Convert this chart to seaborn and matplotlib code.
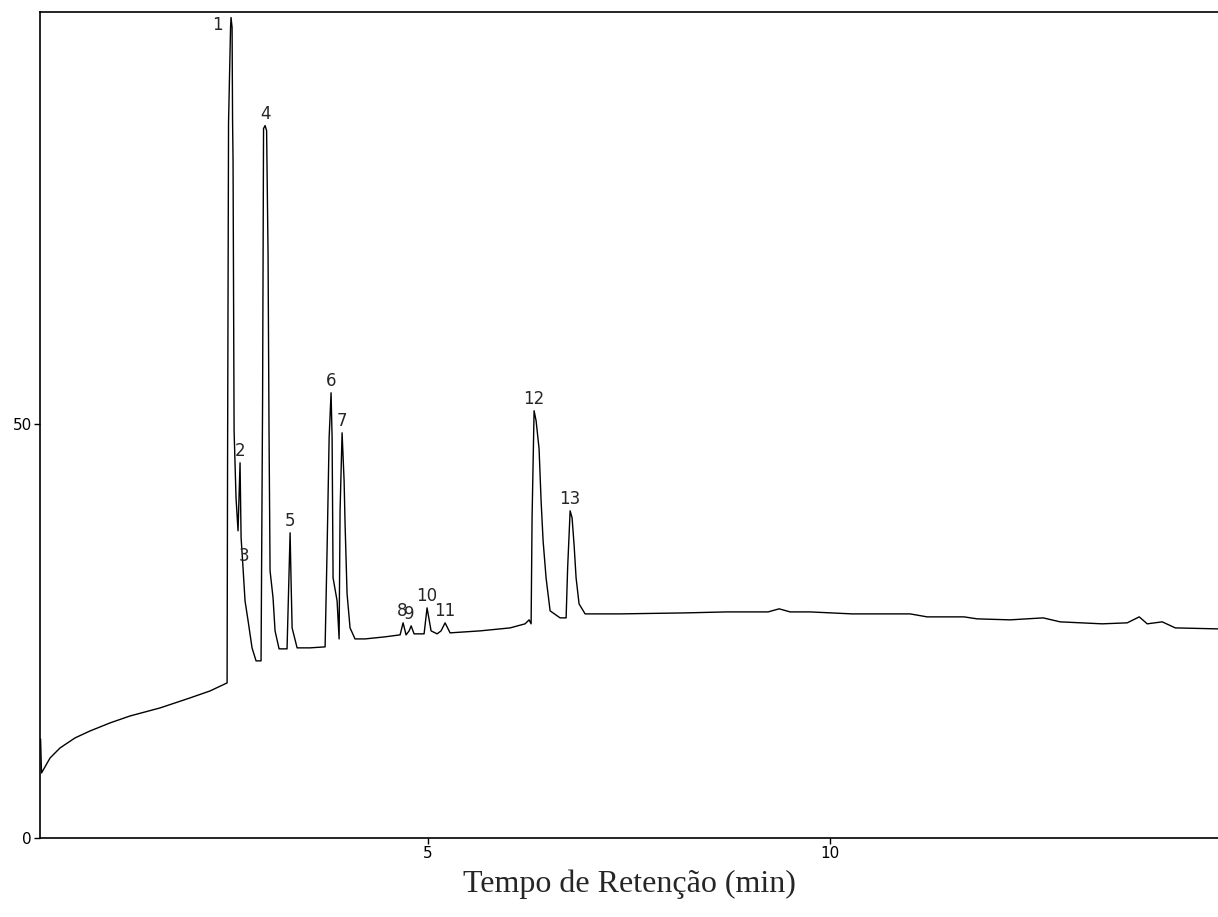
import seaborn as sns
import matplotlib.pyplot as plt
import pandas as pd

sns.set_style("ticks")
plt.rcParams['font.family'] = ['DejaVu Sans']

# chromatogram trace (time in min, detector signal)
tempo = [0.188, 0.200, 0.306, 0.430, 0.616, 0.803, 1.051, 1.300, 1.673, 2.046,
         2.294, 2.506, 2.512, 2.524, 2.549, 2.555, 2.568, 2.574, 2.580, 2.593,
         2.617, 2.642, 2.667, 2.680, 2.704, 2.729, 2.767, 2.816, 2.866, 2.928,
         2.947, 2.959, 2.978, 2.997, 3.015, 3.027, 3.040, 3.077, 3.102, 3.152,
         3.251, 3.270, 3.289, 3.301, 3.314, 3.376, 3.537, 3.724, 3.749, 3.774,
         3.798, 3.811, 3.823, 3.873, 3.898, 3.910, 3.935, 3.960, 3.972, 3.997,
         4.034, 4.096, 4.221, 4.469, 4.656, 4.693, 4.730, 4.768, 4.793, 4.830,
         4.954, 4.991, 5.041, 5.116, 5.165, 5.215, 5.277, 5.650, 6.023, 6.209,
         6.259, 6.284, 6.296, 6.321, 6.346, 6.383, 6.408, 6.433, 6.470, 6.520,
         6.644, 6.719, 6.738, 6.769, 6.793, 6.818, 6.843, 6.880, 6.955, 7.390,
         8.198, 8.720, 9.229, 9.366, 9.503, 9.751, 10.273, 10.994, 11.206, 11.665,
         11.827, 12.237, 12.647, 12.858, 13.381, 13.692, 13.841, 13.941, 14.127, 14.289,
         14.823]
sinal = [11.96, 7.85, 9.66, 10.87, 12.08, 12.92, 13.89, 14.73, 15.70, 16.91,
         17.75, 18.72, 45.89, 86.35, 97.83, 99.03, 97.83, 86.59, 81.76, 49.15,
         41.06, 37.08, 45.29, 36.23, 32.61, 28.62, 26.21, 22.95, 21.38, 21.38,
         52.78, 85.63, 85.99, 85.39, 70.53, 49.15, 32.25, 28.99, 25.00, 22.83,
         22.83, 29.83, 36.84, 31.04, 25.36, 22.95, 22.95, 23.07, 35.02, 48.31,
         53.74, 48.31, 31.40, 28.62, 24.03, 39.49, 48.91, 43.12, 37.92, 29.47,
         25.36, 24.03, 24.03, 24.28, 24.52, 25.97, 24.52, 25.00, 25.60, 24.64,
         24.64, 27.78, 25.00, 24.64, 25.00, 25.97, 24.76, 25.00, 25.36, 25.85,
         26.33, 25.85, 38.65, 51.57, 50.36, 46.98, 40.70, 35.87, 31.40, 27.42,
         26.57, 26.57, 32.61, 39.49, 38.65, 35.39, 31.40, 28.26, 27.05, 27.05,
         27.17, 27.29, 27.29, 27.66, 27.29, 27.29, 27.05, 27.05, 26.69, 26.69,
         26.45, 26.33, 26.57, 26.09, 25.85, 25.97, 26.69, 25.85, 26.09, 25.36,
         25.24]

# peak numbers and their apex (time, signal)
picos = ["1", "2", "3", "4", "5", "6", "7", "8", "9", "10", "11", "12", "13"]
pico_t = [2.555, 2.667, 2.704, 2.978, 3.289, 3.798, 3.935, 4.693, 4.793, 4.991, 5.215, 6.321, 6.769]
pico_s = [99.03, 45.29, 32.61, 85.99, 36.84, 53.74, 48.91, 25.97, 25.60, 27.78, 25.97, 51.57, 39.49]

df = pd.DataFrame({"Tempo": tempo, "Sinal": sinal})

fig = plt.figure(figsize=(12.18, 9.17), dpi=100)
ax = fig.add_axes([40 / 1218, 1 - 838 / 917, 1 - 40 / 1218, 826 / 917])

sns.lineplot(data=df, x="Tempo", y="Sinal", ax=ax, color="black", lw=1.0,
             estimator=None, sort=False)

# label offsets in points (peak 1 label sits beside the apex)
dx = {"1": -10, "8": -1, "9": -1, "3": 1}
for lab, t, s in zip(picos, pico_t, pico_s):
    if lab == "1":
        ax.annotate(lab, (t, s), xytext=(-6, -12), textcoords="offset points",
                    ha="right", va="bottom", fontsize=12)
    else:
        ax.annotate(lab, (t, s), xytext=(dx.get(lab, 0), 2), textcoords="offset points",
                    ha="center", va="bottom", fontsize=12)

ax.set_xlim(0.181, 14.82)
ax.set_ylim(0, 99.7)
ax.set_xticks([5, 10])
ax.set_yticks([0, 50])
ax.tick_params(direction="out", length=4, width=1, labelsize=11, pad=2, colors="black")
for side in ["left", "bottom", "top"]:
    ax.spines[side].set_linewidth(1.2)
    ax.spines[side].set_color("black")
ax.spines["right"].set_visible(False)

ax.set_ylabel("")
ax.set_xlabel("Tempo de Retenção (min)", fontsize=23, family=["Liberation Serif"], labelpad=6)

fig.savefig("out.png", dpi=100)
